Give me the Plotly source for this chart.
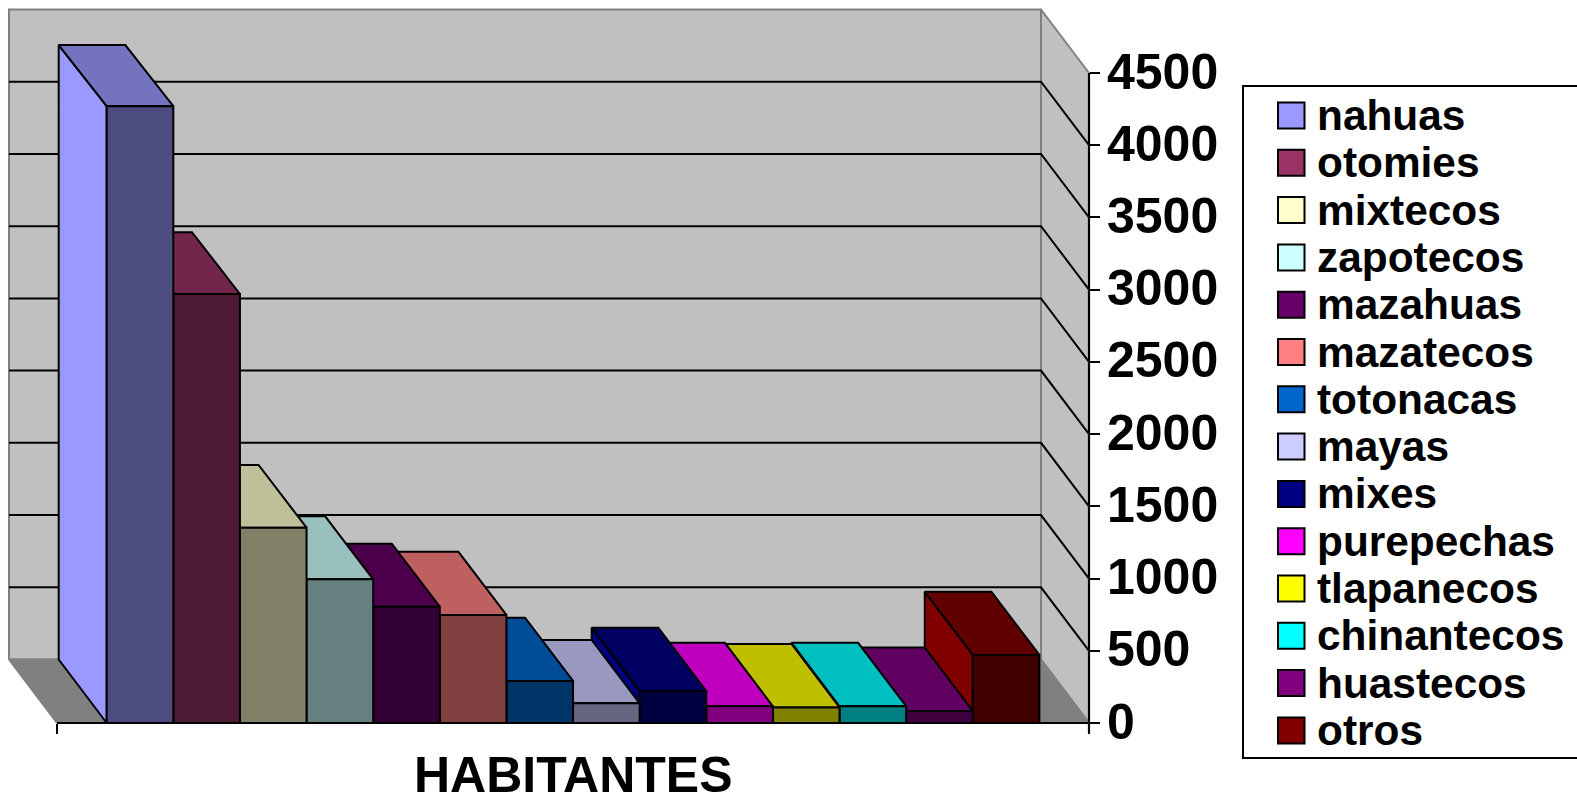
import plotly.graph_objects as go

# ---- data ----
groups = ["nahuas", "otomies", "mixtecos", "zapotecos", "mazahuas", "mazatecos", "totonacas",
          "mayas", "mixes", "purepechas", "tlapanecos", "chinantecos", "huastecos", "otros"]
habitantes = [4270, 2970, 1352, 995, 805, 748, 291, 136, 221, 116, 108, 116, 83, 471]
colors = [(153, 153, 255), (153, 51, 102), (255, 255, 204), (204, 255, 255), (102, 0, 102),
          (255, 128, 128), (0, 102, 204), (204, 204, 255), (0, 0, 128), (255, 0, 255),
          (255, 255, 0), (0, 255, 255), (128, 0, 128), (128, 0, 0)]
y_ticks = [0, 500, 1000, 1500, 2000, 2500, 3000, 3500, 4000, 4500]
category_label = "HABITANTES"

# ---- layout constants (pixels of the 1577x796 page) ----
W, H = 1577, 796
Y0_PX, Y_TOP_PX = 723.0, 73.0
BAR0_PX, BAR_W_PX = 106.7, 66.62
AXIS_L_PX, AXIS_R_PX = 57.0, 1089.0
DX_PX, DY_PX = 48.0, 63.5
k = max(y_ticks) / (Y0_PX - Y_TOP_PX)
DX = DX_PX / BAR_W_PX
DY = DY_PX * k
X_L = (AXIS_L_PX - BAR0_PX) / BAR_W_PX
X_R = (AXIS_R_PX - BAR0_PX) / BAR_W_PX
Y_MAX = max(y_ticks)
FONT = "Liberation Sans, Arial, sans-serif"


def shade(c, f):
    return "rgb(%d,%d,%d)" % tuple(round(v * f) for v in c)


def top_depth(v):
    # the back of a tall column sits a little lower than a pure oblique offset
    return (DY_PX - v * 0.00055) * k


fig = go.Figure()


def poly(xs, ys, fill=None, line="#000000", width=2.0):
    fig.add_trace(go.Scatter(
        x=xs, y=ys, mode="lines", hoverinfo="skip", showlegend=False,
        fill="toself" if fill else "none", fillcolor=fill,
        line=dict(color=line, width=width)))


GREY, WALL, FLOOR = "#808080", "#C0C0C0", "#808080"
# back wall, side wall, floor
poly([X_L - DX, X_R - DX, X_R - DX, X_L - DX, X_L - DX], [DY, DY, DY + Y_MAX, DY + Y_MAX, DY], WALL, GREY)
poly([X_R - DX, X_R, X_R, X_R - DX, X_R - DX], [DY, 0, Y_MAX, DY + Y_MAX, DY], WALL, GREY)
poly([X_L, X_R, X_R - DX, X_L - DX, X_L], [0, 0, DY, DY, 0], FLOOR, GREY)
# gridlines on back and side wall
for v in y_ticks[1:-1]:
    poly([X_L - DX, X_R - DX, X_R], [v + DY, v + DY, v])

# bars, far (right) to near (left)
for i in range(len(groups) - 1, -1, -1):
    v, c = habitantes[i], colors[i]
    x0, x1 = i, i + 1
    t = top_depth(v)
    poly([x0, x0, x0 - DX, x0 - DX, x0], [0, v, v + t, DY, 0], shade(c, 1.0))
    poly([x0, x1, x1 - DX, x0 - DX, x0], [v, v, v + t, v + t, v], shade(c, 0.75))
    poly([x0, x1, x1, x0, x0], [0, 0, v, v, 0], shade(c, 0.5))

# axis lines
poly([X_L, X_R], [0, 0], width=2.2)
poly([X_R, X_R], [-10 * k, Y_MAX], width=2.2)


def px(x):
    return x / W


def py(y):
    return 1 - y / H


shapes = [dict(type="rect", xref="paper", yref="paper", x0=px(1243), x1=px(1590), y0=py(86), y1=py(758),
               line=dict(color="#000000", width=2), fillcolor="#FFFFFF")]
annotations = [dict(text="<b>%s</b>" % category_label, xref="paper", yref="paper", x=px(573.5), y=py(775),
                    height=42, xanchor="center", yanchor="middle", showarrow=False,
                    font=dict(family=FONT, size=50, color="#000000"))]
ROW0, ROW_H = 115.5, 47.3
for i, (name, c) in enumerate(zip(groups, colors)):
    cy = ROW0 + i * ROW_H
    shapes.append(dict(type="rect", xref="paper", yref="paper", x0=px(1278), x1=px(1304.5),
                       y0=py(cy - 13), y1=py(cy + 13), fillcolor=shade(c, 1.0),
                       line=dict(color="#000000", width=2)))
    annotations.append(dict(text="<b>%s</b>" % name, xref="paper", yref="paper", x=px(1315), y=py(cy),
                            xanchor="left", yanchor="middle", showarrow=False,
                            font=dict(family=FONT, size=42.4, color="#000000")))

fig.update_layout(
    width=W, height=H, margin=dict(l=0, r=0, t=0, b=0), autosize=False,
    paper_bgcolor="#FFFFFF", plot_bgcolor="#FFFFFF", showlegend=False,
    shapes=shapes, annotations=annotations,
    xaxis=dict(range=[-BAR0_PX / BAR_W_PX, (W - BAR0_PX) / BAR_W_PX], domain=[0, 1],
               showgrid=False, zeroline=False, showline=False,
               tickmode="array", tickvals=[X_L, X_R], ticktext=["", ""],
               ticks="outside", ticklen=10, tickwidth=2.2, tickcolor="#000000",
               anchor="free", position=(H - Y0_PX) / H),
    yaxis=dict(range=[-(H - Y0_PX) * k, Y0_PX * k], domain=[0, 1],
               showgrid=False, zeroline=False, showline=False,
               tickmode="array", tickvals=y_ticks, ticktext=[str(t) for t in y_ticks],
               ticks="outside", ticklen=10, tickwidth=2.2, tickcolor="#000000",
               side="right", anchor="free", position=AXIS_R_PX / W,
               ticklabelshift=-2, ticklabelstandoff=-3,
               tickfont=dict(family=FONT, size=50, color="#000000", weight=700)),
)

fig.write_html("out.html", config=dict(displayModeBar=False),
               post_script="document.body.style.margin='0';")
